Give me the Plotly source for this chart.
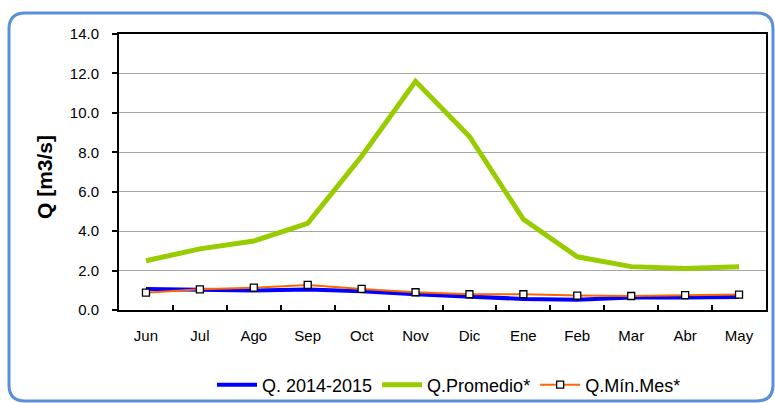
import plotly.graph_objects as go

months = ["Jun", "Jul", "Ago", "Sep", "Oct", "Nov", "Dic", "Ene", "Feb", "Mar", "Abr", "May"]
q_2014_2015 = [1.07, 1.01, 0.99, 1.04, 0.95, 0.80, 0.66, 0.56, 0.52, 0.63, 0.63, 0.66]
q_promedio = [2.5, 3.1, 3.5, 4.4, 7.8, 11.6, 8.8, 4.6, 2.7, 2.2, 2.1, 2.2]
q_min_mes = [0.88, 1.05, 1.13, 1.27, 1.07, 0.90, 0.80, 0.80, 0.73, 0.71, 0.75, 0.78]
y_ticks = [0, 2, 4, 6, 8, 10, 12, 14]

W, H = 775, 403
L, R, T, B = 119, 766, 34, 310

def px(x):
    return (x - L) / (R - L)

def py(y):
    return (B - y) / (B - T)

FONT = "Arial, Liberation Sans, sans-serif"

fig = go.Figure()
fig.add_trace(go.Scatter(x=months, y=q_2014_2015, name="Q. 2014-2015", mode="lines",
                         line=dict(color="#0000ff", width=4)))
fig.add_trace(go.Scatter(x=months, y=q_promedio, name="Q.Promedio*", mode="lines",
                         line=dict(color="#99cc00", width=5)))
fig.add_trace(go.Scatter(x=months, y=q_min_mes, name="Q.Mín.Mes*", mode="lines+markers",
                         line=dict(color="#ff6600", width=2),
                         marker=dict(symbol="square", size=7, color="white",
                                     line=dict(color="black", width=1.3))))

# rounded outer frame
x0, x1, y0, y1, r = 9, 773, 13, 401, 16
path = (f"M {px(x0)},{py(y0 + r)} "
        f"Q {px(x0)},{py(y0)} {px(x0 + r)},{py(y0)} "
        f"L {px(x1 - r)},{py(y0)} "
        f"Q {px(x1)},{py(y0)} {px(x1)},{py(y0 + r)} "
        f"L {px(x1)},{py(y1 - r)} "
        f"Q {px(x1)},{py(y1)} {px(x1 - r)},{py(y1)} "
        f"L {px(x0 + r)},{py(y1)} "
        f"Q {px(x0)},{py(y1)} {px(x0)},{py(y1 - r)} Z")
fig.add_shape(type="path", path=path, xref="paper", yref="paper",
              line=dict(color="#5b8fd8", width=3), layer="below")

fig.add_annotation(text="<b>Q [m3/s]</b>", xref="paper", yref="paper",
                   x=px(44), y=py(177), xanchor="center", yanchor="middle",
                   textangle=-90, showarrow=False,
                   font=dict(family=FONT, size=21, color="black"))

fig.update_layout(
    width=W, height=H,
    margin=dict(l=L, r=W - R, t=T, b=H - B, autoexpand=False),
    paper_bgcolor="white", plot_bgcolor="white",
    font=dict(family=FONT, size=15, color="black"),
    showlegend=True,
    legend=dict(orientation="h", x=px(449), y=py(385), xanchor="center", yanchor="middle",
                font=dict(family=FONT, size=18, color="black"),
                itemwidth=40, tracegroupgap=0, bgcolor="rgba(0,0,0,0)"),
    xaxis=dict(type="category", range=[-0.5, 11.5], tickson="boundaries",
               ticks="inside", ticklen=5, tickwidth=1.5, tickcolor="black",
               showline=True, linecolor="black", linewidth=2, mirror=True,
               showgrid=False, zeroline=False, ticklabelstandoff=11,
               tickfont=dict(family=FONT, size=15, color="black")),
    yaxis=dict(range=[0, 14], tickvals=y_ticks, tickformat=".1f",
               ticks="outside", ticklen=5, tickwidth=1.5, tickcolor="black",
               showline=True, linecolor="black", linewidth=2, mirror=True,
               showgrid=True, gridcolor="#a6a6a6", gridwidth=1, zeroline=False,
               ticklabelstandoff=10,
               tickfont=dict(family=FONT, size=15, color="black")),
)

fig.write_html("out.html", config={"displayModeBar": False},
               post_script="document.body.style.margin='0';")
